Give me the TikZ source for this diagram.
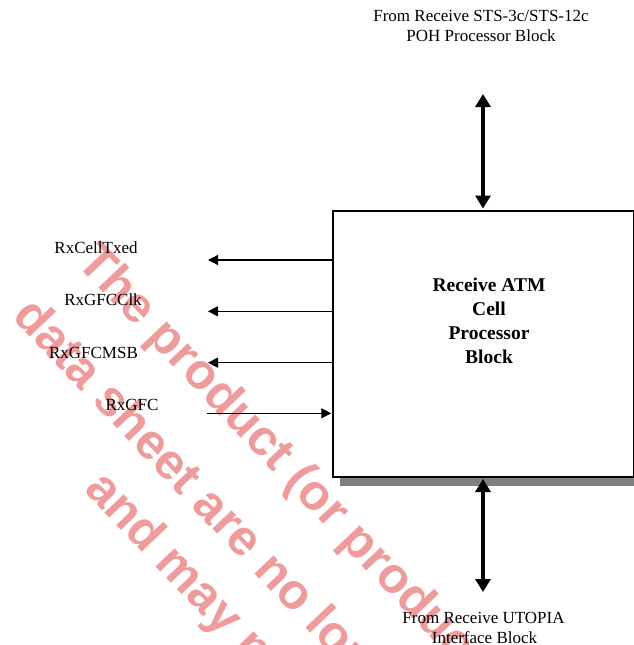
\documentclass[tikz,border=0pt]{standalone}
\usepackage{fontspec}
\setmainfont{Liberation Serif}
\newfontfamily\wmfont{Liberation Sans}
\usetikzlibrary{arrows.meta}
\definecolor{wmred}{RGB}{240,155,155}
\definecolor{shadowgray}{RGB}{128,128,128}
\begin{document}
\begin{tikzpicture}[x=1pt,y=-1pt,
  lbl/.style={font=\fontsize{17}{20}\selectfont, inner sep=0pt, anchor=base},
  wm/.style={font=\wmfont\bfseries\fontsize{50}{60}\selectfont, text=wmred, rotate=-46.5, anchor=base west, inner sep=0pt},
  sig/.style={line width=1.3pt, -{Triangle[length=10pt,width=10pt]}},
  bus/.style={line width=3.3pt, {Triangle[length=13pt,width=15pt]}-{Triangle[length=13pt,width=15pt]}},
]
\useasboundingbox (0,0) rectangle (634,645);
\begin{scope}
\clip (0,0) rectangle (634,645);
\node[wm] (w1) at (75,263) {The product (or products)};
\node[wm] (w2) at (11,317) {data sheet are no longer};
\node[wm] (w3) at (83,490) {and may no longer};
% shadow and box
\fill[shadowgray] (340,220) rectangle (645,486);
\node[draw, fill=white, line width=1.5pt, minimum width=301pt, minimum height=266pt,
      anchor=north west, inner sep=0pt] (box) at (332,210) {};
\end{scope}
\node[font=\bfseries\fontsize{19.5}{24}\selectfont, align=center, inner sep=0pt] (boxtext) at (489,320.5)
  {Receive ATM\\Cell\\Processor\\Block};
% top and bottom labels
\node[lbl] (top1) at (481,21.7) {From Receive STS-3c/STS-12c};
\node[lbl] (top2) at (481,41.7) {POH Processor Block};
\node[lbl] (bot1) at (483.5,623) {From Receive UTOPIA};
\node[lbl] (bot2) at (484.5,643) {Interface Block};
% buses
\coordinate (topend) at (483,94);
\coordinate (botend) at (483,592);
\draw[bus] (topend) -- ([yshift=1.5pt]box.north -| topend);
\draw[bus] ([yshift=-1.5pt]box.south -| botend) -- (botend);
% signals
\coordinate (o1) at (208,260);
\coordinate (o2) at (208,311.3);
\coordinate (o3) at (208,362.7);
\coordinate (i1) at (207,413.3);
\draw[sig] (box.west |- o1) -- (o1);
\draw[sig] (box.west |- o2) -- (o2);
\draw[sig] (box.west |- o3) -- (o3);
\draw[sig] (i1) -- ([xshift=-0.75pt]box.west |- i1);
\node[lbl] (l1) at (96,253.3) {RxCellTxed};
\node[lbl] (l2) at (103,305) {RxGFCClk};
\node[lbl] (l3) at (93.5,358.3) {RxGFCMSB};
\node[lbl] (l4) at (132,410) {RxGFC};
\end{tikzpicture}
\end{document}
